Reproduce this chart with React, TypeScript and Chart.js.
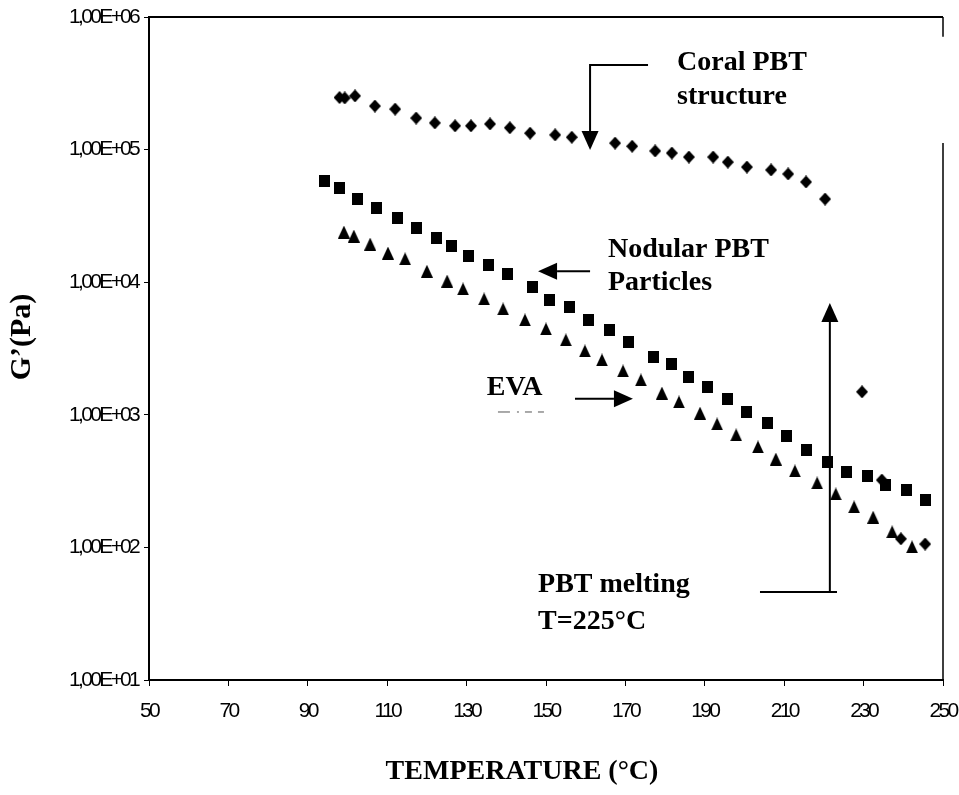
import React, { useEffect, useRef } from 'react';
import { Chart, registerables } from 'chart.js';

Chart.register(...registerables);

// ---- Data (temperature in °C, G' in Pa) ----
const coralT = [98.0, 99.3, 101.9, 106.9, 112.0, 117.3, 122.0, 127.1, 131.1, 135.9, 140.9, 146.0, 152.3, 156.5, 167.4, 171.7, 177.5, 181.7, 186.0, 192.1, 195.8, 200.6, 206.7, 211.0, 215.5, 220.3, 229.6, 234.6, 239.4, 245.5];
const coralG = [2.47e5, 2.45e5, 2.54e5, 2.13e5, 2.02e5, 1.73e5, 1.59e5, 1.51e5, 1.51e5, 1.56e5, 1.46e5, 1.33e5, 1.29e5, 1.24e5, 1.12e5, 1.06e5, 9.76e4, 9.42e4, 8.79e4, 8.79e4, 8.05e4, 7.39e4, 7.02e4, 6.55e4, 5.7e4, 4.24e4, 1.49e3, 322, 116, 106];

const nodularT = [94.3, 98.1, 102.6, 107.4, 112.5, 117.5, 122.3, 126.3, 130.6, 135.4, 140.4, 146.7, 151.0, 156.0, 160.8, 165.9, 170.7, 177.2, 181.5, 186.0, 190.8, 195.6, 200.6, 205.7, 210.7, 215.7, 220.8, 225.8, 230.9, 235.6, 240.7, 245.7];
const nodularG = [5.8e4, 5.13e4, 4.24e4, 3.63e4, 3.05e4, 2.56e4, 2.15e4, 1.87e4, 1.58e4, 1.35e4, 1.15e4, 9.2e3, 7.35e3, 6.5e3, 5.19e3, 4.36e3, 3.54e3, 2.73e3, 2.42e3, 1.93e3, 1.62e3, 1.32e3, 1.05e3, 867, 692, 543, 441, 370, 345, 296, 271, 228];

const evaT = [99.1, 101.6, 105.7, 110.2, 114.5, 120.0, 125.1, 129.1, 134.4, 139.2, 144.7, 150.0, 155.0, 159.8, 164.1, 169.4, 173.9, 179.2, 183.5, 188.8, 193.1, 197.9, 203.4, 207.9, 212.7, 218.3, 223.0, 227.6, 232.4, 237.2, 242.2];
const evaG = [2.39e4, 2.23e4, 1.94e4, 1.66e4, 1.5e4, 1.21e4, 1.02e4, 8.89e3, 7.47e3, 6.28e3, 5.19e3, 4.44e3, 3.67e3, 3.03e3, 2.59e3, 2.14e3, 1.83e3, 1.46e3, 1.25e3, 1.03e3, 853, 705, 572, 464, 377, 306, 253, 202, 169, 131, 101];

const xMin = 50;
const xMax = 250;
const xStep = 20;
const yTickValues = [1e1, 1e2, 1e3, 1e4, 1e5, 1e6];

const xTitle = 'TEMPERATURE (°C)';
const yTitle = 'G’(Pa)';

// Annotation texts anchored in data space (left edge, vertical centre)
const noteTexts = [
  { text: 'Coral PBT', t: 183.0, g: 4.5e5 },
  { text: 'structure', t: 183.0, g: 2.49e5 },
  { text: 'Nodular PBT', t: 165.6, g: 1.75e4 },
  { text: 'Particles', t: 165.6, g: 9.86e3 },
  { text: 'EVA', t: 135.1, g: 1.59e3 },
  { text: 'PBT melting', t: 148.0, g: 52 },
  { text: 'T=225°C', t: 148.0, g: 27.4 },
];

// Arrow polylines in data space; arrowhead at the last point when head = true
const noteArrows = [
  { pts: [[175.7, 4.34e5], [161.1, 4.34e5], [161.1, 9.93e4]], head: true },
  { pts: [[161.1, 1.21e4], [148.0, 1.21e4]], head: true },
  { pts: [[157.3, 1.32e3], [171.9, 1.32e3]], head: true },
  { pts: [[221.5, 46.1], [221.5, 6.97e3]], head: true },
  { pts: [[203.9, 46.1], [223.3, 46.1]], head: false },
];

const tickFont = { family: "'Liberation Sans', Arial, sans-serif", size: 21 };
const tickLetterSpacing = '-2.7px';
const serifBold = '"Liberation Serif", "Times New Roman", serif';

function makeMarker(kind: string): HTMLCanvasElement {
  const c = document.createElement('canvas');
  const w = kind === 'square' ? 11 : 12;
  const h = kind === 'square' ? 12 : 13;
  c.width = w;
  c.height = h;
  const ctx = c.getContext('2d')!;
  ctx.fillStyle = '#000';
  ctx.beginPath();
  if (kind === 'diamond') {
    ctx.moveTo(w / 2, 0);
    ctx.lineTo(w, h / 2);
    ctx.lineTo(w / 2, h);
    ctx.lineTo(0, h / 2);
  } else if (kind === 'square') {
    ctx.rect(0, 0, w, h);
  } else {
    ctx.moveTo(w / 2, 0);
    ctx.lineTo(w, h);
    ctx.lineTo(0, h);
  }
  ctx.closePath();
  ctx.fill();
  return c;
}

// condensed look for the tick labels (applies while the scales are drawn)
const condensedTicksPlugin = {
  id: 'condensedTicks',
  beforeDraw(chart: any) {
    (chart.ctx as any).letterSpacing = tickLetterSpacing;
  },
  beforeDatasetsDraw(chart: any) {
    (chart.ctx as any).letterSpacing = '0px';
  },
};

const annotationPlugin = {
  id: 'figureAnnotations',
  afterDraw(chart: any) {
    const { ctx, chartArea, scales } = chart;
    const xs = scales.x;
    const ys = scales.y;
    const px = (t: number) => xs.getPixelForValue(t);
    const py = (g: number) => ys.getPixelForValue(g);
    ctx.save();
    (ctx as any).letterSpacing = '0px';
    ctx.strokeStyle = '#000';
    ctx.fillStyle = '#000';

    // frame: top and right borders (right one has a gap as in the scan)
    ctx.lineWidth = 2;
    ctx.beginPath();
    ctx.moveTo(chartArea.left, chartArea.top);
    ctx.lineTo(chartArea.right, chartArea.top);
    ctx.stroke();
    ctx.lineWidth = 1.5;
    ctx.beginPath();
    ctx.moveTo(chartArea.right, chartArea.top);
    ctx.lineTo(chartArea.right, py(7.1e5));
    ctx.moveTo(chartArea.right, py(1.12e5));
    ctx.lineTo(chartArea.right, chartArea.bottom);
    ctx.stroke();

    // arrows
    ctx.lineWidth = 2;
    for (const a of noteArrows) {
      const p = a.pts.map(([t, g]) => [px(t), py(g)]);
      const n = p.length;
      const endX = p[n - 1][0];
      const endY = p[n - 1][1];
      const dx = endX - p[n - 2][0];
      const dy = endY - p[n - 2][1];
      const len = Math.hypot(dx, dy) || 1;
      const ux = dx / len;
      const uy = dy / len;
      const headLen = 19;
      const headHalf = 8.5;
      ctx.beginPath();
      ctx.moveTo(p[0][0], p[0][1]);
      for (let i = 1; i < n - 1; i++) ctx.lineTo(p[i][0], p[i][1]);
      if (a.head) ctx.lineTo(endX - ux * headLen, endY - uy * headLen);
      else ctx.lineTo(endX, endY);
      ctx.stroke();
      if (a.head) {
        const bx = endX - ux * headLen;
        const by = endY - uy * headLen;
        ctx.beginPath();
        ctx.moveTo(endX, endY);
        ctx.lineTo(bx - uy * headHalf, by + ux * headHalf);
        ctx.lineTo(bx + uy * headHalf, by - ux * headHalf);
        ctx.closePath();
        ctx.fill();
      }
    }

    // faint scan remnant under "EVA"
    ctx.strokeStyle = '#555';
    ctx.lineWidth = 1;
    ctx.setLineDash([12, 7, 2, 6, 7, 6, 6]);
    ctx.beginPath();
    ctx.moveTo(px(137.9), py(1.05e3));
    ctx.lineTo(px(150.5), py(1.05e3));
    ctx.stroke();
    ctx.setLineDash([]);

    // annotation texts
    ctx.fillStyle = '#000';
    ctx.font = `bold 28px ${serifBold}`;
    ctx.textAlign = 'left';
    ctx.textBaseline = 'middle';
    for (const n of noteTexts) ctx.fillText(n.text, px(n.t), py(n.g));

    // axis titles
    ctx.textAlign = 'center';
    ctx.font = `bold 28px ${serifBold}`;
    ctx.fillText(xTitle, (chartArea.left + chartArea.right) / 2 - 24, chartArea.bottom + 92);
    ctx.save();
    ctx.translate(22, 337);
    ctx.rotate(-Math.PI / 2);
    ctx.font = `bold 30px ${serifBold}`;
    ctx.fillText(yTitle, 0, 0);
    ctx.restore();

    ctx.restore();
  },
};

export default function App() {
  const canvasRef = useRef<HTMLCanvasElement | null>(null);

  useEffect(() => {
    const canvas = canvasRef.current;
    if (!canvas) return;
    const diamond = makeMarker('diamond');
    const square = makeMarker('square');
    const triangle = makeMarker('triangle');

    const chart = new Chart(canvas, {
      type: 'scatter',
      data: {
        datasets: [
          {
            label: 'Coral PBT structure',
            data: coralT.map((t, i) => ({ x: t, y: coralG[i] })),
            pointStyle: diamond as any,
            pointRadius: 6,
            backgroundColor: '#000',
            borderColor: '#000',
          },
          {
            label: 'Nodular PBT particles',
            data: nodularT.map((t, i) => ({ x: t, y: nodularG[i] })),
            pointStyle: square as any,
            pointRadius: 6,
            backgroundColor: '#000',
            borderColor: '#000',
          },
          {
            label: 'EVA',
            data: evaT.map((t, i) => ({ x: t, y: evaG[i] })),
            pointStyle: triangle as any,
            pointRadius: 6,
            backgroundColor: '#000',
            borderColor: '#000',
          },
        ],
      },
      options: {
        responsive: false,
        animation: false,
        layout: { padding: { top: 17, right: 16, left: 0, bottom: 0 } },
        plugins: {
          legend: { display: false },
          tooltip: { enabled: false },
        },
        scales: {
          x: {
            type: 'linear',
            min: xMin,
            max: xMax,
            ticks: {
              stepSize: xStep,
              color: '#000',
              font: tickFont,
              padding: 13,
              maxRotation: 0,
              autoSkip: false,
            },
            grid: { drawOnChartArea: false, drawTicks: true, tickLength: 6, color: '#000', lineWidth: 1 },
            border: { display: true, color: '#000', width: 2 },
            afterFit: (s: any) => {
              s.height = 115;
              s.paddingLeft = 0;
              s.paddingRight = 0;
            },
          },
          y: {
            type: 'logarithmic',
            min: yTickValues[0],
            max: yTickValues[yTickValues.length - 1],
            afterBuildTicks: (s: any) => {
              s.ticks = yTickValues.map((v) => ({ value: v }));
            },
            ticks: {
              color: '#000',
              font: tickFont,
              padding: 6,
              autoSkip: false,
              callback: (v: any) => {
                const e = Math.round(Math.log10(Number(v)));
                return `1,00E+${String(e).padStart(2, '0')}`;
              },
            },
            grid: { drawOnChartArea: false, drawTicks: true, tickLength: 5, color: '#000', lineWidth: 1 },
            border: { display: true, color: '#000', width: 2 },
            afterFit: (s: any) => {
              s.width = 149;
              s.paddingTop = 0;
              s.paddingBottom = 0;
            },
          },
        },
      },
      plugins: [condensedTicksPlugin, annotationPlugin],
    } as any);

    return () => chart.destroy();
  }, []);

  return (
    <div style={{ position: 'absolute', left: 0, top: 0, width: 959, height: 795, background: '#fff' }}>
      <canvas ref={canvasRef} width={959} height={795} style={{ display: 'block' }} />
    </div>
  );
}
